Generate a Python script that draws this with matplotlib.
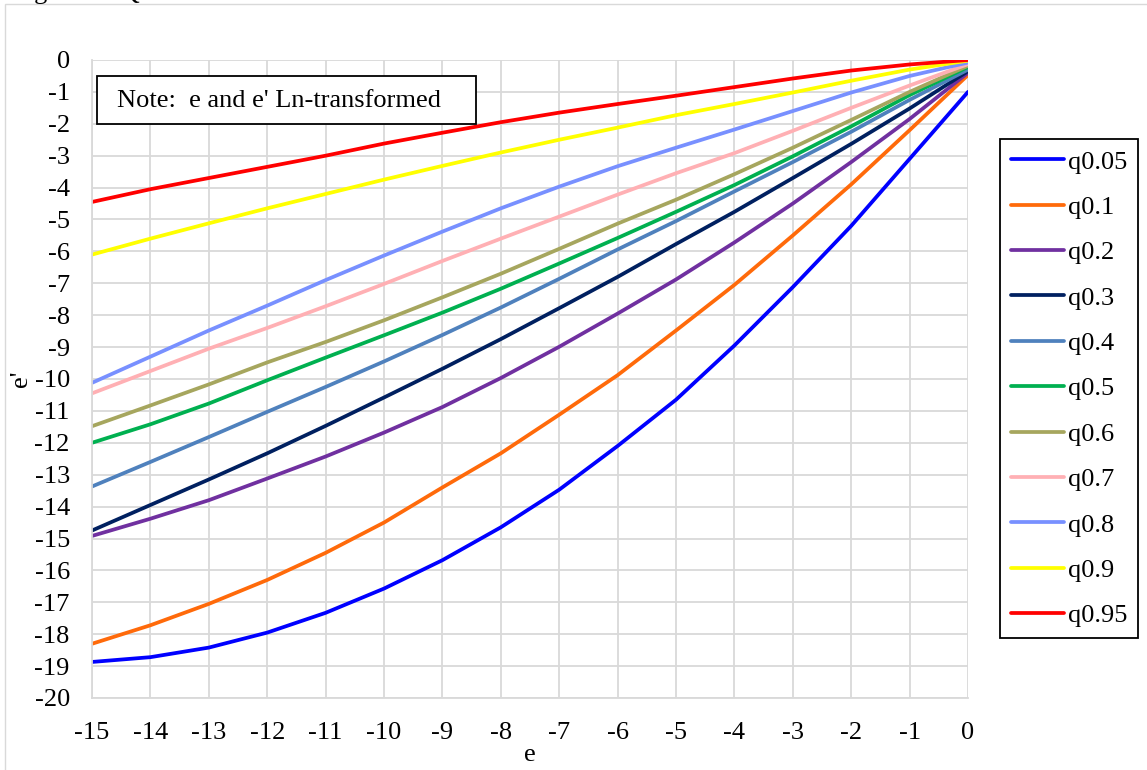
"""Quantile curves of e' against e (both Ln-transformed)"""

import matplotlib.pyplot as plt
from matplotlib.patches import Rectangle

plt.rcParams["font.family"] = ["Liberation Serif", "DejaVu Serif"]
plt.rcParams["axes.unicode_minus"] = False

e = [-15, -14, -13, -12, -11, -10, -9, -8, -7, -6, -5, -4, -3, -2, -1, 0]

q005 = [-18.87, -18.72, -18.42, -17.95, -17.33, -16.57, -15.68, -14.65,
        -13.47, -12.1, -10.65, -8.95, -7.12, -5.2, -3.1, -1.0]
q01 = [-18.3, -17.72, -17.05, -16.3, -15.45, -14.5, -13.4, -12.33,
       -11.12, -9.88, -8.48, -7.05, -5.5, -3.9, -2.2, -0.47]
q02 = [-14.92, -14.38, -13.8, -13.12, -12.43, -11.68, -10.88, -9.97,
       -8.99, -7.95, -6.88, -5.72, -4.5, -3.2, -1.85, -0.4]
q03 = [-14.75, -13.95, -13.15, -12.33, -11.47, -10.58, -9.68, -8.75,
       -7.78, -6.8, -5.77, -4.76, -3.7, -2.63, -1.52, -0.35]
q04 = [-13.37, -12.6, -11.82, -11.03, -10.25, -9.45, -8.62, -7.76,
       -6.86, -5.94, -5.05, -4.12, -3.2, -2.25, -1.25, -0.3]
q05 = [-12.0, -11.42, -10.77, -10.04, -9.33, -8.63, -7.92, -7.17,
       -6.38, -5.58, -4.76, -3.92, -3.02, -2.08, -1.1, -0.22]
q06 = [-11.48, -10.83, -10.17, -9.48, -8.84, -8.16, -7.44, -6.7,
       -5.92, -5.13, -4.38, -3.58, -2.75, -1.88, -1.0, -0.18]
q07 = [-10.45, -9.75, -9.05, -8.4, -7.72, -7.02, -6.3, -5.6,
       -4.91, -4.22, -3.55, -2.92, -2.22, -1.5, -0.8, -0.13]
q08 = [-10.12, -9.3, -8.48, -7.7, -6.9, -6.13, -5.38, -4.65,
       -3.97, -3.33, -2.75, -2.18, -1.6, -1.02, -0.5, -0.08]
q09 = [-6.1, -5.6, -5.12, -4.65, -4.2, -3.75, -3.32, -2.9,
       -2.5, -2.12, -1.73, -1.38, -1.02, -0.65, -0.3, -0.02]
q095 = [-4.45, -4.05, -3.7, -3.35, -3.0, -2.62, -2.28, -1.95,
        -1.65, -1.38, -1.12, -0.85, -0.58, -0.33, -0.14, 0.0]

labels = ["q0.05", "q0.1", "q0.2", "q0.3", "q0.4", "q0.5",
          "q0.6", "q0.7", "q0.8", "q0.9", "q0.95"]
series = [q005, q01, q02, q03, q04, q05, q06, q07, q08, q09, q095]
colors = ["#0000FF", "#FF6A0A", "#7030A0", "#002060", "#4F81BD", "#00B050",
          "#A6A65E", "#FFB0B4", "#7890FF", "#FFFF00", "#FF0000"]

W, H = 1147, 770
fig = plt.figure(figsize=(W / 100, H / 100), dpi=100)
ax = fig.add_axes([92 / W, 1 - 698 / H, (968 - 92) / W, (698 - 60) / H])

for vals, lab, col in zip(series, labels, colors):
    ax.plot(e, vals, color=col, lw=2.7, label=lab,
            solid_capstyle="round", solid_joinstyle="round")

ax.set_xlim(-15, 0)
ax.set_ylim(-20, 0)
ax.set_xticks(range(-15, 1))
ax.set_yticks(range(-20, 1))
ax.grid(True, color="#d9d9d9", lw=1.3)
ax.set_axisbelow(True)
for side in ["top", "right"]:
    ax.spines[side].set_visible(False)
for side in ["left", "bottom"]:
    ax.spines[side].set_color("#d9d9d9")
    ax.spines[side].set_linewidth(1.3)
ax.tick_params(length=0, labelsize=19)
ax.tick_params(axis="y", pad=16)
ax.tick_params(axis="x", pad=17)
ax.set_xlabel("e", fontsize=19)
ax.set_ylabel("e'", fontsize=19)
ax.xaxis.set_label_coords(0.5, -0.072)
ax.yaxis.set_label_coords(-0.068, 0.5)

leg = ax.legend(loc="upper left", bbox_to_anchor=(1000 / W, 1 - 139 / H),
                bbox_transform=fig.transFigure, borderaxespad=0, fontsize=19,
                handlelength=2.0, handletextpad=0.15, labelspacing=0.83,
                borderpad=0.42, fancybox=False, edgecolor="black", framealpha=1)
leg.get_frame().set_linewidth(1.3)

# note box
fig.add_artist(Rectangle((97 / W, 1 - 124 / H), (476 - 97) / W, (124 - 76) / H,
                         transform=fig.transFigure, facecolor="white",
                         edgecolor="black", lw=1.3))
fig.text(117 / W, 1 - 101 / H, "Note:  e and e' Ln-transformed", fontsize=19,
         va="center", ha="left")

# outer chart frame and cut caption above
fig.add_artist(Rectangle((5 / W, -0.1), 1.2, 1 - 4 / H + 0.1,
                         transform=fig.transFigure, facecolor="none",
                         edgecolor="#d9d9d9", lw=1.0))
fig.text(12 / W, 1 + 1 / H, "Figure 4.  Q", fontsize=19, va="baseline", ha="left")

fig.savefig("out.png", dpi=100)
